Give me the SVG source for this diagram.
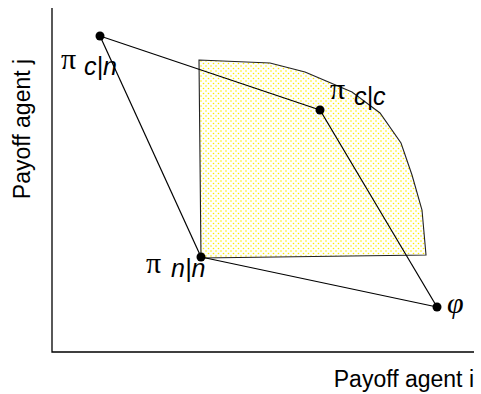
<svg xmlns="http://www.w3.org/2000/svg" width="481" height="394" viewBox="0 0 481 394">
<style>
.ax{stroke:#000;stroke-width:1.3;fill:none}
.ln{stroke:#000;stroke-width:1.2;fill:none}
.dot{fill:#000}
.pi{font-family:"Liberation Serif","DejaVu Serif",serif;font-size:30px}
.lb{font-family:"Liberation Sans",Arial,sans-serif;font-style:italic;font-size:25px}
.axl{font-family:"Liberation Sans",Arial,sans-serif;font-size:23px}
</style>
<defs>
<pattern id="dots" width="5" height="5" patternUnits="userSpaceOnUse">
<rect width="5" height="5" fill="#fff"/>
<circle cx="1" cy="1" r="0.8" fill="#ffee00"/>
<circle cx="3.5" cy="3.5" r="0.8" fill="#ffee00"/>
</pattern>
</defs>
<g id="axes">
<path class="ax" d="M52,8 V352 H474"/>
<text class="axl" x="474" y="387" text-anchor="end">Payoff agent i</text>
<text class="axl" transform="translate(30,129) rotate(-90)" text-anchor="middle">Payoff agent j</text>
</g>
<g id="region">
<path d="M199,60 L270,63 L305,72 L352,92 L380,113 L401,143 L412,175 L422,210 L426,255 L201,258 Z" fill="url(#dots)" stroke="#222" stroke-width="1.1"/>
</g>
<g id="connectors">
<line class="ln" x1="100" y1="36" x2="320" y2="110"/>
<line class="ln" x1="100" y1="36" x2="201" y2="257"/>
<line class="ln" x1="320" y1="110" x2="437" y2="307"/>
<line class="ln" x1="201" y1="257" x2="437" y2="307"/>
</g>
<g id="cn">
<circle class="dot" cx="100" cy="36" r="4.5"/>
<text class="pi" x="61" y="69">π</text>
<text class="lb" x="84" y="75">c|n</text>
</g>
<g id="cc">
<circle class="dot" cx="320" cy="110" r="4.5"/>
<text class="pi" x="330" y="99">π</text>
<text class="lb" x="354" y="105">c|c</text>
</g>
<g id="nn">
<circle class="dot" cx="201" cy="257" r="4.5"/>
<text class="pi" x="146" y="273">π</text>
<text class="lb" x="171" y="277">n|n</text>
</g>
<g id="phi">
<circle class="dot" cx="437" cy="307" r="4.5"/>
<text class="pi" x="447" y="313" font-style="italic">φ</text>
</g>
</svg>
